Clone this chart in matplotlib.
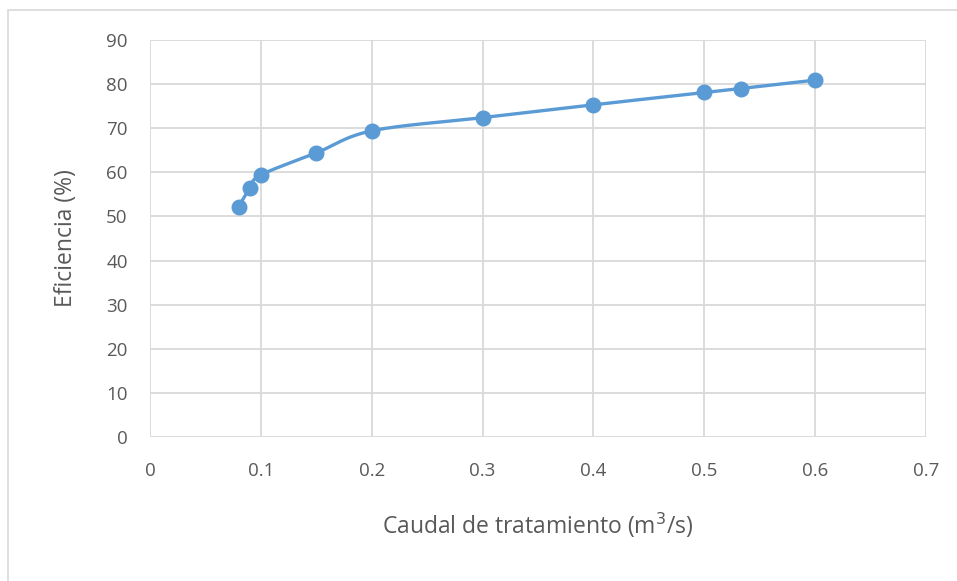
import numpy as np
import matplotlib
matplotlib.use("Agg")
import matplotlib.pyplot as plt
from matplotlib.patches import Rectangle

caudal = [0.08, 0.09, 0.10, 0.15, 0.20, 0.30, 0.40, 0.50, 0.533, 0.60]
eficiencia = [52.2, 56.4, 59.4, 64.4, 69.4, 72.4, 75.3, 78.1, 79.0, 80.9]

plt.rcParams['font.family'] = ['Open Sans', 'DejaVu Sans']

blue = "#5B9BD5"
grey_text = "#595959"
grid_col = "#D9D9D9"

fig = plt.figure(figsize=(9.57, 5.81), dpi=100)
ax = fig.add_axes([0.1567, 0.2478, 0.9676 - 0.1567, 0.9312 - 0.2478])

# Excel-like smoothed line (Bezier with Catmull-Rom control points),
# computed in normalised axis space
xmax, ymax = 0.7, 90.0
px = np.array(caudal) / xmax * 776
py = np.array(eficiencia) / ymax * 397
pts = np.column_stack([px, py])
curve = []
n = len(pts)
for i in range(n - 1):
    p0 = pts[i - 1] if i > 0 else pts[i]
    p1 = pts[i]
    p2 = pts[i + 1]
    p3 = pts[i + 2] if i + 2 < n else pts[i + 1]
    c1 = p1 + (p2 - p0) / 6
    c2 = p2 - (p3 - p1) / 6
    t = np.linspace(0, 1, 40)[:, None]
    seg = (1 - t) ** 3 * p1 + 3 * (1 - t) ** 2 * t * c1 + 3 * (1 - t) * t ** 2 * c2 + t ** 3 * p2
    curve.append(seg)
curve = np.vstack(curve)
ax.plot(curve[:, 0] / 776 * xmax, curve[:, 1] / 397 * ymax, color=blue, linewidth=2.4,
        solid_capstyle="round", zorder=3)
ax.plot(caudal, eficiencia, "o", color=blue, markersize=10.5, zorder=4)

ax.set_xlim(0, 0.7)
ax.set_ylim(0, 90)
ax.set_xticks(np.arange(0, 0.71, 0.1))
ax.set_xticklabels(["0", "0.1", "0.2", "0.3", "0.4", "0.5", "0.6", "0.7"])
ax.set_yticks(np.arange(0, 91, 10))
ax.grid(True, color=grid_col, linewidth=1.3)
ax.set_axisbelow(True)
for s in ax.spines.values():
    s.set_visible(False)
ax.tick_params(length=0, colors=grey_text, labelsize=13.5)
ax.tick_params(axis="x", pad=18)
ax.tick_params(axis="y", pad=16)

ax.set_xlabel("Caudal de tratamiento (m$^3$/s)", color=grey_text, fontsize=16.5, labelpad=22)
ax.set_ylabel("Eficiencia (%)", color=grey_text, fontsize=16.5, labelpad=20)

fig.patches.append(Rectangle((8 / 957, -0.01), 1.0, 1 - 10 / 581 + 0.01, transform=fig.transFigure,
                             fill=False, edgecolor=grid_col, linewidth=1.2))

fig.savefig("out.png", dpi=100)
